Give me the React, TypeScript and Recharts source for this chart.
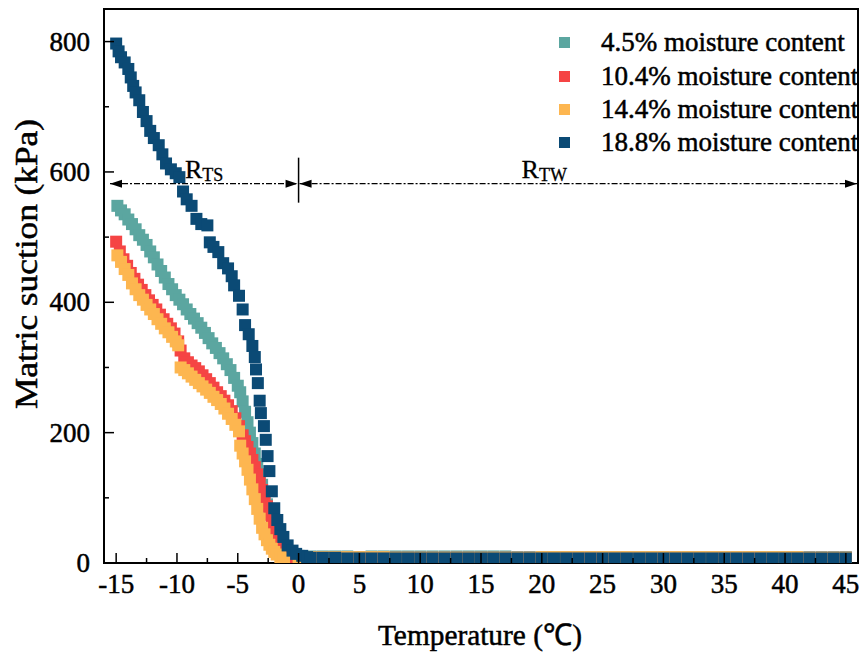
import {
  ScatterChart,
  Scatter,
  XAxis,
  YAxis,
  ReferenceArea,
  ReferenceLine,
} from "recharts";

const FONT = "'Liberation Serif', 'Times New Roman', serif";

// [temperature (°C), matric suction (kPa)]
const mc45: [number, number][] = [
  [-14.9, 548], [-14.6, 541], [-14.3, 535], [-14.0, 527], [-13.7, 520], [-13.4, 512],
  [-13.1, 503], [-12.8, 496], [-12.5, 488], [-12.2, 478], [-11.9, 469], [-11.6, 458],
  [-11.3, 448], [-11.0, 438], [-10.7, 428], [-10.4, 420], [-10.1, 411], [-9.8, 404],
  [-9.5, 397], [-9.2, 389], [-8.9, 382], [-8.6, 375], [-8.3, 368], [-8.0, 361],
  [-7.7, 353], [-7.4, 345], [-7.1, 337], [-6.8, 330], [-6.5, 322], [-6.2, 314],
  [-5.9, 305], [-5.6, 296], [-5.3, 284], [-5.0, 272], [-4.8, 262], [-4.6, 248],
  [-4.4, 232], [-4.2, 216], [-4.0, 200], [-3.8, 184], [-3.6, 168], [-3.4, 152],
  [-3.2, 136], [-3.0, 120], [-2.8, 104], [-2.6, 90], [-2.4, 76], [-2.2, 63],
  [-2.0, 51], [-1.8, 42], [-1.6, 34], [-1.4, 28], [-1.2, 23], [-1.0, 19],
  [-0.7, 15], [-0.4, 13],
  [0, 11], [1, 10], [2, 10], [3, 10], [4, 10], [5, 9], [6, 10], [7, 10], [8, 10],
  [9, 10], [10, 10], [11, 10], [12, 10], [13, 10], [14, 10], [15, 10], [16, 10],
  [17, 10], [18, 9], [19, 9], [20, 9], [21, 9], [22, 9], [23, 9], [24, 9], [25, 9],
  [26, 9], [27, 9], [28, 9], [29, 9], [30, 9], [31, 9], [32, 9], [33, 9], [34, 9],
  [35, 9], [36, 9], [37, 9], [38, 9], [39, 9], [40, 9], [41, 9], [42, 9], [43, 9],
  [44, 9], [45, 9],
];

const mc104: [number, number][] = [
  [-15.0, 493], [-14.7, 478], [-14.4, 466], [-14.1, 456], [-13.8, 445], [-13.5, 436],
  [-13.2, 427], [-12.9, 419], [-12.6, 411], [-12.3, 403], [-12.0, 396], [-11.7, 389],
  [-11.4, 381], [-11.1, 374], [-10.8, 367], [-10.5, 360], [-10.2, 352], [-9.9, 340],
  [-9.7, 326], [-9.4, 314], [-9.1, 308], [-8.8, 303], [-8.5, 299], [-8.2, 294],
  [-7.9, 288], [-7.6, 282], [-7.3, 276], [-7.0, 269], [-6.7, 262], [-6.4, 256],
  [-6.1, 249], [-5.8, 242], [-5.5, 233], [-5.2, 222], [-4.9, 210], [-4.6, 196],
  [-4.4, 187], [-4.2, 178], [-4.0, 168], [-3.8, 158], [-3.6, 147], [-3.4, 136],
  [-3.2, 124], [-3.0, 112], [-2.8, 100], [-2.6, 87], [-2.4, 74], [-2.2, 61],
  [-2.0, 49], [-1.8, 38], [-1.6, 29], [-1.4, 21], [-1.2, 15], [-1.0, 11], [-0.7, 9],
  [0, 8], [1, 8], [2, 8], [3, 8], [4, 8], [5, 8], [6, 8], [7, 8], [8, 8], [9, 8],
  [10, 8], [11, 8], [12, 8], [13, 8], [14, 8], [15, 8], [16, 8], [17, 8], [18, 8],
  [19, 8], [20, 8], [21, 8], [22, 8], [23, 8], [24, 8], [25, 8], [26, 8], [27, 8],
  [28, 8], [29, 8], [30, 8], [31, 8], [32, 8], [33, 8], [34, 8], [35, 8], [36, 8],
  [37, 8], [38, 8], [39, 8], [40, 8], [41, 8], [42, 8], [43, 8], [44, 8], [45, 8],
];

const mc144: [number, number][] = [
  [-14.9, 472], [-14.6, 462], [-14.3, 451], [-14.0, 442], [-13.7, 429], [-13.4, 420],
  [-13.1, 411], [-12.8, 404], [-12.5, 396], [-12.2, 389], [-11.9, 382], [-11.6, 374],
  [-11.3, 367], [-11.0, 360], [-10.7, 354], [-10.4, 347], [-10.1, 340], [-9.9, 334],
  [-9.7, 300], [-9.4, 296], [-9.1, 291], [-8.8, 286], [-8.5, 281], [-8.2, 276],
  [-7.9, 271], [-7.6, 266], [-7.3, 261], [-7.0, 255], [-6.7, 250], [-6.4, 244],
  [-6.1, 237], [-5.8, 229], [-5.5, 221], [-5.2, 212], [-4.9, 202], [-4.8, 180],
  [-4.6, 168], [-4.4, 156], [-4.2, 143], [-4.0, 128], [-3.8, 113], [-3.6, 98],
  [-3.4, 83], [-3.2, 68], [-3.0, 54], [-2.8, 44], [-2.6, 35], [-2.4, 28], [-2.2, 22],
  [-2.0, 17], [-1.8, 13], [-1.5, 9], [-1.2, 7],
  [0, 9], [1, 9], [2, 9], [3, 9], [4, 9], [5, 9], [6, 9], [7, 9], [8, 8], [9, 8],
  [10, 8], [11, 8], [12, 8], [13, 8], [14, 8], [15, 8], [16, 8], [17, 8], [18, 8],
  [19, 8], [20, 9], [21, 9], [22, 9], [23, 9], [24, 9], [25, 9], [26, 9], [27, 9],
  [28, 9], [29, 9], [30, 9], [31, 9], [32, 9], [33, 9], [34, 9], [35, 9], [36, 9],
  [37, 9], [38, 9], [39, 9], [40, 9], [41, 9], [42, 8], [43, 8], [44, 8], [45, 8],
];

const mc188: [number, number][] = [
  [-15.0, 797], [-14.8, 785], [-14.6, 776], [-14.3, 768], [-14.0, 758], [-13.8, 745],
  [-13.6, 732], [-13.4, 722], [-13.1, 710], [-12.8, 692], [-12.5, 678], [-12.2, 663],
  [-11.9, 652], [-11.5, 641], [-11.2, 627], [-10.9, 613], [-10.5, 604], [-10.1, 598],
  [-9.8, 592], [-9.5, 570], [-9.2, 558], [-8.8, 548], [-8.4, 528], [-8.0, 520],
  [-7.5, 518], [-7.3, 492], [-7.0, 485], [-6.6, 477], [-6.2, 460], [-5.8, 452],
  [-5.5, 440], [-5.3, 426], [-4.9, 410], [-4.6, 389], [-4.4, 365], [-4.1, 351],
  [-3.8, 333], [-3.6, 316], [-3.5, 297], [-3.35, 276], [-3.2, 249], [-3.1, 230],
  [-2.85, 210], [-2.7, 189], [-2.55, 164], [-2.4, 141], [-2.2, 110], [-2.0, 84],
  [-1.75, 66], [-1.5, 52], [-1.25, 40], [-0.9, 27], [-0.5, 19], [-0.2, 14],
  [0.3, 11], [0.7, 9],
  [1, 8], [2, 8], [3, 8], [4, 7], [5, 7], [6, 7], [7, 7], [8, 7], [9, 7], [10, 7],
  [11, 7], [12, 7], [13, 7], [14, 7], [15, 7], [16, 7], [17, 7], [18, 7], [19, 7],
  [20, 7], [21, 7], [22, 7], [23, 7], [24, 7], [25, 7], [26, 7], [27, 7], [28, 7],
  [29, 7], [30, 7], [31, 7], [32, 7], [33, 7], [34, 7], [35, 7], [36, 7], [37, 7],
  [38, 7], [39, 7], [40, 7], [41, 7], [42, 7], [43, 7], [44, 7], [45, 7],
];

const seriesNames = [
  "4.5% moisture content",
  "10.4% moisture content",
  "14.4% moisture content",
  "18.8% moisture content",
];
const seriesColors = ["#5BA6A0", "#F54444", "#FDB650", "#0B4A75"];
const seriesData = [mc45, mc104, mc144, mc188];

const xTicks = [
  -15, -12.5, -10, -7.5, -5, -2.5, 0, 2.5, 5, 7.5, 10, 12.5, 15, 17.5, 20, 22.5,
  25, 27.5, 30, 32.5, 35, 37.5, 40, 42.5, 45,
];
const yTicks = [0, 100, 200, 300, 400, 500, 600, 700, 800];

const boundaryY = 582;

const toPoints = (arr: [number, number][]) => arr.map(([t, s]) => ({ t, s }));

const square = (color: string) => (props: any) => (
  <rect x={props.cx - 6} y={props.cy - 6} width={12} height={12} fill={color} />
);

// the source text is heavier than plain Times, a thin stroke thickens it
const heavy = { stroke: "#000", strokeWidth: 0.5 };

const XTick = (props: any) => {
  const { x, y, payload } = props;
  const v = payload.value;
  const major = v % 5 === 0;
  return (
    <g>
      <line x1={x} x2={x} y1={y} y2={y - (major ? 10 : 5)} stroke="#000" strokeWidth={1.5} />
      {major && (
        <text x={x} y={y + 30} textAnchor="middle" fontSize={27} fontFamily={FONT} fill="#000" {...heavy}>
          {v}
        </text>
      )}
    </g>
  );
};

const YTick = (props: any) => {
  const { x, y, payload } = props;
  const v = payload.value;
  const major = v % 200 === 0;
  return (
    <g>
      <line x1={x} x2={x + (major ? 10 : 5)} y1={y} y2={y} stroke="#000" strokeWidth={1.5} />
      {major && (
        <text x={x - 14} y={y + 9} textAnchor="end" fontSize={27} fontFamily={FONT} fill="#000" {...heavy}>
          {v}
        </text>
      )}
    </g>
  );
};

const arrowHead = (tipX: number, y: number, dir: number) =>
  `${tipX},${y} ${tipX - dir * 12},${y - 4} ${tipX - dir * 12},${y + 4}`;

const RangeArrow = (props: any) => {
  const { x1, y1, x2, sub, labelOffset, leftGap, bar } = props;
  const y = y1;
  const lx = x1 + leftGap;
  return (
    <g>
      <line x1={lx} x2={x2 - 1} y1={y} y2={y} stroke="#000" strokeWidth={1.3} strokeDasharray="6 2 2 2" />
      <polygon points={arrowHead(lx, y, -1)} fill="#000" />
      <polygon points={arrowHead(x2 - 1, y, 1)} fill="#000" />
      {bar && <line x1={x2} x2={x2} y1={y - 26} y2={y + 19} stroke="#000" strokeWidth={1.5} />}
      <text x={x1 + labelOffset} y={y - 6} fontSize={26} fontFamily={FONT} fill="#000" stroke="#000" strokeWidth={0.3}>
        R
        <tspan fontSize={18} dy={3}>
          {sub}
        </tspan>
      </text>
    </g>
  );
};

// legend drawn as an overlay so it does not shrink the plot area
const LegendBox = () => (
  <div
    style={{
      position: "absolute",
      left: 553,
      top: 26,
      fontFamily: FONT,
      fontSize: 27,
      color: "#000",
      WebkitTextStroke: "0.5px #000",
    }}
  >
    {seriesNames.map((name, i) => (
      <div key={name} style={{ display: "flex", alignItems: "center", height: 33.4 }}>
        <span
          style={{
            display: "inline-block",
            width: 11,
            height: 11,
            background: seriesColors[i],
            marginLeft: 6,
            marginRight: 31,
          }}
        />
        <span style={{ whiteSpace: "nowrap" }}>{name}</span>
      </div>
    ))}
  </div>
);

export default function App() {
  return (
    <div style={{ position: "absolute", left: 0, top: 0, width: 864, height: 658, background: "#fff" }}>
      <ScatterChart width={864} height={658} margin={{ top: 9, right: 6, bottom: 55, left: 44 }}>
        <XAxis
          type="number"
          dataKey="t"
          domain={[-16, 46]}
          ticks={xTicks}
          allowDataOverflow
          height={40}
          tickSize={0}
          tickMargin={0}
          tick={<XTick />}
          axisLine={false}
          tickLine={false}
          interval={0}
          label={{
            content: () => (
              <text
                x={480}
                y={645}
                textAnchor="middle"
                fontSize={30}
                fontFamily={FONT}
                textLength={204}
                lengthAdjust="spacingAndGlyphs"
                fill="#000"
                {...heavy}
              >
                Temperature (℃)
              </text>
            ),
          }}
        />
        <YAxis
          type="number"
          dataKey="s"
          domain={[0, 850]}
          ticks={yTicks}
          allowDataOverflow
          width={60}
          tickSize={0}
          tickMargin={0}
          tick={<YTick />}
          axisLine={false}
          tickLine={false}
          interval={0}
          label={{
            content: () => (
              <text
                x={37}
                y={264}
                transform="rotate(-90 37 264)"
                textAnchor="middle"
                fontSize={31}
                fontFamily={FONT}
                textLength={290}
                lengthAdjust="spacingAndGlyphs"
                fill="#000"
                {...heavy}
              >
                Matric suction (kPa)
              </text>
            ),
          }}
        />
        <ReferenceArea x1={-16} x2={46} y1={0} y2={850} fill="none" stroke="#000" strokeWidth={2} />
        <ReferenceLine
          segment={[
            { x: -16, y: boundaryY },
            { x: 0, y: boundaryY },
          ]}
          shape={(p: any) => <RangeArrow {...p} sub="TS" labelOffset={81} leftGap={6} bar />}
        />
        <ReferenceLine
          segment={[
            { x: 0, y: boundaryY },
            { x: 46, y: boundaryY },
          ]}
          shape={(p: any) => <RangeArrow {...p} sub="TW" labelOffset={223} leftGap={1} />}
        />
        {seriesData.map((d, i) => (
          <Scatter
            key={seriesNames[i]}
            name={seriesNames[i]}
            data={toPoints(d)}
            fill={seriesColors[i]}
            shape={square(seriesColors[i])}
            isAnimationActive={false}
          />
        ))}
      </ScatterChart>
      <LegendBox />
    </div>
  );
}
